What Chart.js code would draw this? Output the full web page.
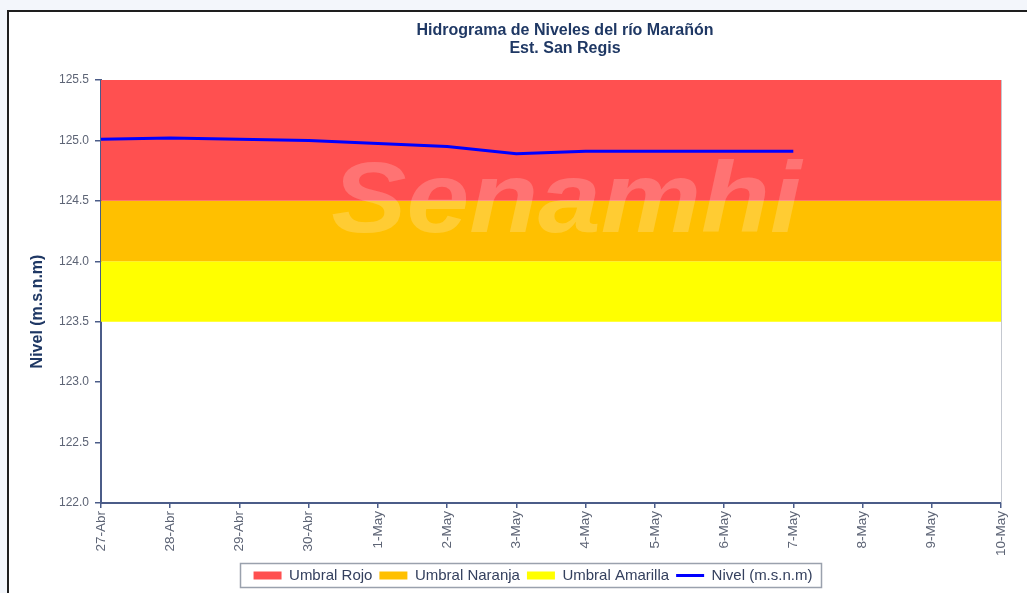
<!DOCTYPE html>
<html>
<head>
<meta charset="utf-8">
<script src="https://cdn.jsdelivr.net/npm/chart.js@4.4.0/dist/chart.umd.min.js"></script>
<style>
html, body { margin: 0; padding: 0; width: 1027px; height: 593px; overflow: hidden; background: #f3f6fb; }
#marco { position: absolute; left: 7px; top: 10px; width: 1040px; height: 600px; border: 2px solid #1e1e1e; background: #fff; }
#cont { position: absolute; left: 0; top: 0; width: 1027px; height: 593px; }
</style>
</head>
<body>
<div id="marco"></div>
<div id="cont"><canvas id="myChart"></canvas></div>
<script>
// fechas del eje x
var fechas = ['27-Abr', '28-Abr', '29-Abr', '30-Abr', '1-May', '2-May', '3-May',
              '4-May', '5-May', '6-May', '7-May', '8-May', '9-May', '10-May'];
// nivel observado (m.s.n.m)
var nivel = [125.01, 125.02, 125.01, 125.00, 124.975, 124.95, 124.89,
             124.91, 124.91, 124.91, 124.91, null, null, null];
// umbrales [inferior, superior]
var umbralRojo = [124.5, 125.5];
var umbralNaranja = [124.0, 124.5];
var umbralAmarilla = [123.5, 124.0];
var ejeY = {min: 122.0, max: 125.5, paso: 0.5};
var titulo = ['Hidrograma de Niveles del río Marañón', 'Est. San Regis'];
var tituloY = 'Nivel (m.s.n.m)';

var colorEje = '#4b5c88';
var colorTexto = '#5d6475';
var azulOscuro = '#1f3864';
var fuente = '"Liberation Sans", Arial, sans-serif';

function banda (nombre, limites, color) {
    return {
        type: 'line',
        label: nombre,
        data: fechas.map(function () { return limites[1]; }),
        fill: {value: limites[0]},
        backgroundColor: color,
        borderColor: color,
        borderWidth: 0,
        pointRadius: 0,
        pointStyle: 'rect',
        order: 2
    };
}

var extras = {
    id: 'extras',
    afterDatasetsDraw: function (chart) {
        // marca de agua
        var ctx = chart.ctx, a = chart.chartArea;
        ctx.save();
        ctx.font = 'italic bold 100px ' + fuente;
        ctx.fillStyle = 'rgba(255,255,255,0.2)';
        ctx.textBaseline = 'alphabetic';
        ctx.textAlign = 'center';
        var w = ctx.measureText('Senamhi').width;
        ctx.translate(a.left + a.width * 0.517, a.top + 152);
        ctx.scale(470 / w, 1);
        ctx.fillText('Senamhi', 0, 0);
        ctx.restore();
    },
    afterDraw: function (chart) {
        var ctx = chart.ctx, a = chart.chartArea;
        ctx.save();
        // borde derecho del area
        ctx.strokeStyle = '#c4c8d0';
        ctx.lineWidth = 1;
        ctx.beginPath();
        ctx.moveTo(a.right + 0.5, a.top);
        ctx.lineTo(a.right + 0.5, a.bottom);
        ctx.stroke();
        // titulo
        ctx.font = 'bold 16px ' + fuente;
        ctx.fillStyle = azulOscuro;
        ctx.textAlign = 'center';
        ctx.textBaseline = 'middle';
        ctx.fillText(titulo[0], 565, 31);
        ctx.fillText(titulo[1], 565, 49);
        // titulo del eje y
        ctx.translate(38, a.top + (a.bottom - a.top) / 2 + 20);
        ctx.rotate(-Math.PI / 2);
        ctx.fillText(tituloY, 0, 0);
        ctx.restore();
        // caja de la leyenda
        var cajas = chart.legend.legendHitBoxes;
        if (cajas && cajas.length) {
            var x0 = Math.min.apply(null, cajas.map(function (b) { return b.left; }));
            var x1 = Math.max.apply(null, cajas.map(function (b) { return b.left + b.width; }));
            var y0 = cajas[0].top;
            var h = cajas[0].height;
            ctx.save();
            ctx.strokeStyle = '#9aa1ad';
            ctx.lineWidth = 1.5;
            ctx.strokeRect(Math.round(x0 - 14) + 0.5, Math.round(y0 - 5) + 0.5, Math.round(x1 - x0 + 22), Math.round(h + 9));
            ctx.restore();
        }
    }
};

function hidrograma () {
    var ctx = document.getElementById('myChart').getContext('2d');
    var chart = new Chart(ctx, {
        type: 'line',
        data: {
            labels: fechas,
            datasets: [
            banda('Umbral Rojo', umbralRojo, '#ff5050'),
            banda('Umbral Naranja', umbralNaranja, '#ffc000'),
            banda('Umbral Amarilla', umbralAmarilla, '#ffff00'),
            {
                label: 'Nivel (m.s.n.m)',
                data: nivel,
                borderColor: '#0000ff',
                backgroundColor: '#0000ff',
                borderWidth: 3,
                pointRadius: 0,
                pointStyle: 'line',
                fill: false,
                tension: 0,
                order: 1
            }]
        },
        options: {
            responsive: true,
            maintainAspectRatio: false,
            animation: false,
            layout: {padding: {left: 20, right: -19, top: 80, bottom: 0}},
            plugins: {
                title: {display: false},
                legend: {
                    position: 'bottom',
                    labels: {
                        usePointStyle: true,
                        pointStyleWidth: 28,
                        boxHeight: 8,
                        padding: 7,
                        color: '#34405e',
                        font: {family: fuente, size: 15},
                        sort: function (a, b) { return a.datasetIndex - b.datasetIndex; }
                    }
                },
                tooltip: {enabled: false}
            },
            scales: {
                x: {
                    offset: false,
                    grid: {display: true, drawOnChartArea: false, drawTicks: true, tickLength: 5, color: colorEje, lineWidth: 1.5},
                    border: {color: colorEje, width: 2},
                    ticks: {
                        autoSkip: false,
                        maxRotation: 90,
                        minRotation: 90,
                        padding: 3,
                        color: colorTexto,
                        font: {family: fuente, size: 13.5}
                    },
                    afterFit: function (scale) { scale.height = 58; }
                },
                y: {
                    min: ejeY.min,
                    max: ejeY.max,
                    grid: {display: true, drawOnChartArea: false, drawTicks: true, tickLength: 6, color: colorEje, lineWidth: 1.5},
                    border: {color: colorEje, width: 2},
                    ticks: {
                        stepSize: ejeY.paso,
                        padding: 6,
                        color: colorTexto,
                        font: {family: fuente, size: 12},
                        callback: function (v) { return Number(v).toFixed(1); }
                    },
                    afterFit: function (scale) { scale.width = 81; }
                },
                margen: {
                    position: 'right',
                    grid: {display: false},
                    border: {display: false},
                    ticks: {display: false},
                    afterFit: function (scale) { scale.width = 45; }
                }
            }
        },
        plugins: [extras]
    });
}

hidrograma();
</script>
</body>
</html>
